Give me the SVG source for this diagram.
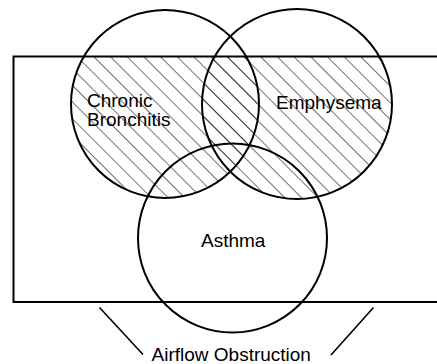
<svg xmlns="http://www.w3.org/2000/svg" width="437" height="364" viewBox="0 0 437 364">
  <style>
    .ring { fill: none; stroke: #000; stroke-width: 2; }
    .frame { fill: none; stroke: #000; stroke-width: 2; }
    .lbl { font-family: "Liberation Sans", Arial, sans-serif; font-size: 19px; fill: #000; }
    .conn { stroke: #000; stroke-width: 1.6; fill: none; }
  </style>
  <defs>
    <pattern id="hatch" patternUnits="userSpaceOnUse" width="11.8" height="11.8" patternTransform="translate(3,0) rotate(-45)">
      <line x1="0" y1="-1" x2="0" y2="13" stroke="#000" stroke-width="1.1"/>
    </pattern>
    <clipPath id="boxclip">
      <rect x="13.5" y="56.5" width="430" height="245.5"/>
    </clipPath>
  </defs>
  <rect width="437" height="364" fill="#fff"/>

  <g id="hatching" clip-path="url(#boxclip)">
    <circle cx="165" cy="104" r="94" fill="url(#hatch)"/>
    <circle cx="297" cy="104" r="95" fill="url(#hatch)"/>
  </g>

  <g id="airflow-obstruction">
    <rect class="frame" x="13.5" y="56.5" width="440" height="245.5"/>
    <text class="lbl" x="151.5" y="361">Airflow Obstruction</text>
  </g>

  <g id="chronic-bronchitis">
    <circle class="ring" cx="165" cy="104" r="94"/>
    <text class="lbl" x="87" y="106.5">Chronic</text>
    <text class="lbl" x="87" y="126">Bronchitis</text>
  </g>

  <g id="emphysema">
    <circle class="ring" cx="297" cy="104" r="95"/>
    <text class="lbl" x="276" y="109">Emphysema</text>
  </g>

  <g id="asthma">
    <circle class="ring" cx="232.5" cy="238" r="94.5"/>
    <text class="lbl" x="201" y="246.5">Asthma</text>
  </g>

  <g id="connectors">
    <line class="conn" x1="99.5" y1="307.5" x2="143" y2="354.5"/>
    <line class="conn" x1="373.5" y1="307.5" x2="331" y2="355"/>
  </g>
</svg>
